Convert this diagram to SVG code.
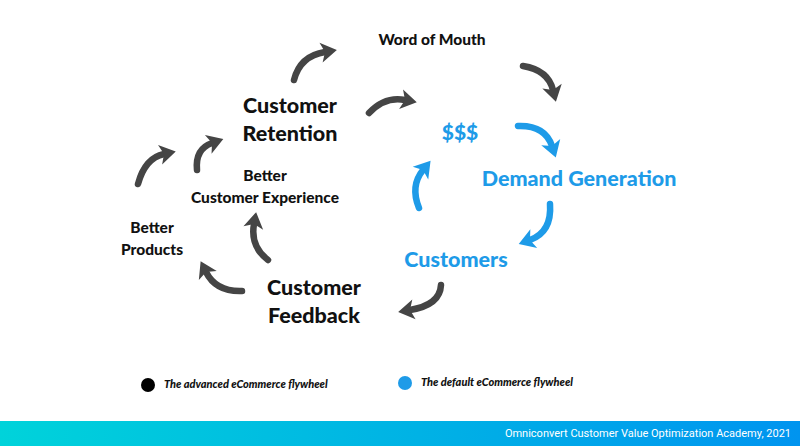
<svg xmlns="http://www.w3.org/2000/svg" width="800" height="446" viewBox="0 0 800 446">
<defs>
<style>
.dk{font-family:Lato,"Open Sans",sans-serif;font-weight:900;fill:#111;text-anchor:middle}
.bl{font-family:Lato,"Open Sans",sans-serif;font-weight:900;fill:#1e9be8;text-anchor:middle}
.lg{font-family:Lato,"Open Sans",sans-serif;font-weight:900;font-style:italic;font-size:11px;fill:#111}
.ga{fill:none;stroke:#454545;stroke-width:6.5;stroke-linecap:round;marker-end:url(#hg)}
.ba{fill:none;stroke:#1e9be8;stroke-width:6.5;stroke-linecap:round;marker-end:url(#hb)}
</style>
<marker id="hg" markerUnits="userSpaceOnUse" markerWidth="24" markerHeight="24" viewBox="-4 -12 20 24" refX="2" refY="0" orient="auto"><path d="M-2,-10 L14,0 L-2,10 L2,0 Z" fill="#454545"/></marker>
<marker id="hb" markerUnits="userSpaceOnUse" markerWidth="24" markerHeight="24" viewBox="-4 -12 20 24" refX="2" refY="0" orient="auto"><path d="M-2,-10 L14,0 L-2,10 L2,0 Z" fill="#1e9be8"/></marker>
<linearGradient id="bar" x1="0" y1="0" x2="1" y2="0"><stop offset="0" stop-color="#00d3da"/><stop offset="1" stop-color="#0094ef"/></linearGradient>
</defs>
<rect width="800" height="446" fill="#fff"/>
<g id="connectors">
<path class="ga" d="M294,80 Q300,56 325,52"/>
<path class="ga" d="M369,113 Q385,96 405,100"/>
<path class="ga" d="M523,66 Q548,70 553,90"/>
<path class="ga" d="M138,184 Q145,158 164,154"/>
<path class="ga" d="M197,170 Q195,149 212,143"/>
<path class="ga" d="M268,260 Q250,246 254,224"/>
<path class="ga" d="M242,291 Q216,292 206,272"/>
<path class="ga" d="M441,285 Q440,305 410,310"/>
<path class="ba" d="M518,126 Q545,125 552,146"/>
<path class="ba" d="M550,204 Q552,232 530,240"/>
<path class="ba" d="M419,208 Q410,186 423,170"/>
</g>
<g id="word-of-mouth"><text class="dk" x="432" y="45" font-size="15.5">Word of Mouth</text></g>
<g id="customer-retention"><text class="dk" x="290" y="113" font-size="21.5">Customer</text><text class="dk" x="290" y="141" font-size="21.5">Retention</text></g>
<g id="better-customer-experience"><text class="dk" x="265" y="181" font-size="15.5">Better</text><text class="dk" x="265" y="203" font-size="15.5">Customer Experience</text></g>
<g id="better-products"><text class="dk" x="152" y="233" font-size="15.5">Better</text><text class="dk" x="152" y="255" font-size="15.5">Products</text></g>
<g id="customer-feedback"><text class="dk" x="314" y="295" font-size="21.5">Customer</text><text class="dk" x="314" y="323" font-size="21.5">Feedback</text></g>
<g id="money"><text class="bl" x="460" y="140" font-size="21">$$$</text></g>
<g id="demand-generation"><text class="bl" x="579" y="186" font-size="21.5">Demand Generation</text></g>
<g id="customers"><text class="bl" x="456" y="267" font-size="21.5">Customers</text></g>
<g id="legend">
<circle cx="148" cy="385" r="7" fill="#000"/>
<text class="lg" x="164" y="388">The advanced eCommerce flywheel</text>
<circle cx="405" cy="383" r="7" fill="#1e9be8"/>
<text class="lg" x="421" y="386">The default eCommerce flywheel</text>
</g>
<g id="footer">
<rect x="0" y="421" width="800" height="25" fill="url(#bar)"/>
<text x="791" y="437" font-family="Roboto,sans-serif" font-size="11" fill="#fff" text-anchor="end">Omniconvert Customer Value Optimization Academy, 2021</text>
</g>
</svg>
